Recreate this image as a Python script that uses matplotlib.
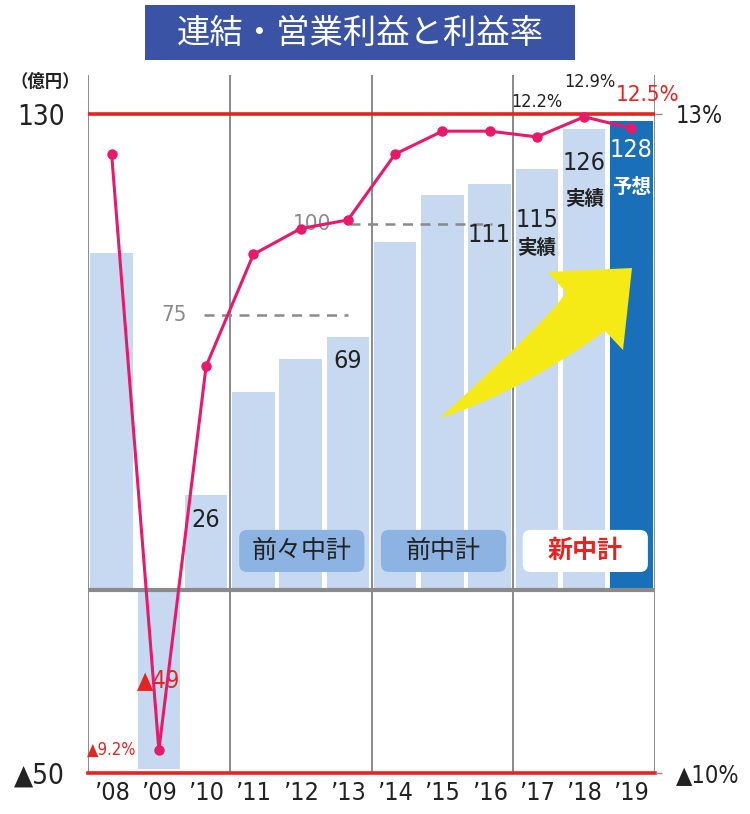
import matplotlib
matplotlib.use('Agg')
import matplotlib.pyplot as plt
import matplotlib.patches as mpatches
from matplotlib.path import Path

# --- data ---
years = ['’08', '’09', '’10', '’11', '’12', '’13', '’14', '’15', '’16', '’17', '’18', '’19']
profit = [92, -49, 26, 54, 63, 69, 95, 108, 111, 115, 126, 128]      # 億円
margin = [11.6, -9.2, 4.2, 8.1, 9.0, 9.3, 11.6, 12.4, 12.4, 12.2, 12.9, 12.5]  # %
plans = ['前々中計', '前中計', '新中計']
targets = [75, 100]

NUM = dict(family=['DejaVu Sans'], fontstretch='condensed')
JP = ['Noto Sans CJK JP', 'DejaVu Sans']

BAR = '#C6D9F0'
BAR_FC = '#1A6FB9'
LINE = '#E8196B'
RED = '#E52421'
GRAY = '#8a8a8a'
DARK = '#222222'

fig = plt.figure(figsize=(7.5, 8.14), dpi=100)
ax = fig.add_axes([88/750, 41/814, 567/750, 698/814])
ax2 = ax.twinx()

x = list(range(len(years)))
colors = [BAR] * (len(years) - 1) + [BAR_FC]
ax.bar(x, profit, width=0.9, color=colors, zorder=1)

ax.set_xlim(-0.5, 11.5)
ax.set_ylim(-50, 140.65)
ax2.set_ylim(-10, 14.36)

for s in ax.spines.values():
    s.set_visible(False)
for s in ax2.spines.values():
    s.set_visible(False)

# grid / frame lines
for b in [-0.5, 2.5, 5.5, 8.5, 11.5]:
    ax.axvline(b, color=GRAY, lw=1.4, zorder=2)
ax.axhline(0, color=GRAY, lw=3, zorder=2)
ax.axhline(130, color=RED, lw=2.6, zorder=2)
ax.axhline(-50, color=RED, lw=2.6, zorder=2, clip_on=False)

# target dashed lines
ax.plot([1.95, 5.0], [targets[0]] * 2, ls=(0, (4, 3)), color=GRAY, lw=1.8, zorder=2)
ax.plot([5.05, 8.05], [targets[1]] * 2, ls=(0, (4, 3)), color=GRAY, lw=1.8, zorder=2)
ax.text(1.6, targets[0], str(targets[0]), ha='right', va='center', color=GRAY,
        fontsize=16, **NUM)
ax.text(4.65, targets[1], str(targets[1]), ha='right', va='center', color=GRAY,
        fontsize=16, zorder=3, **NUM)

# ticks
ax.set_xticks(x)
ax.set_xticklabels(years, fontsize=18, color=DARK, **NUM)
ax.tick_params(axis='x', length=0, pad=6)
ax.set_yticks([130, -50])
ax.set_yticklabels(['130', '▲50'], fontsize=20, color=DARK, **NUM)
ax.tick_params(axis='y', length=0, pad=17)
ax2.set_yticks([13, -10])
ax2.set_yticklabels(['13%', '▲10%'], fontsize=17, color=DARK, **NUM)
ax2.tick_params(axis='y', length=5, color=GRAY, width=1, pad=10)

fig.text(45/750, 1 - 82/814, '（億円）', ha='center', va='center', fontsize=12.5,
         fontweight='bold', family=JP, color=DARK)

# margin line
ax2.plot(x, margin, color=LINE, lw=2.2, marker='o', markersize=6.5, zorder=5,
         clip_on=False)

# bar value labels
def bar_label(i, txt, dy, color=DARK, size=18, jp=False):
    font = dict(family=JP, fontweight='bold') if jp else NUM
    ax.annotate(txt, (x[i], profit[i]), xytext=(0, dy), textcoords='offset points',
                ha='center', va='center', fontsize=size, color=color, zorder=4, **font)

bar_label(2, str(profit[2]), -18)
bar_label(5, str(profit[5]), -17)
bar_label(8, str(profit[8]), -37)
bar_label(9, str(profit[9]), -37)
bar_label(9, '実績', -57, size=14, jp=True)
bar_label(10, str(profit[10]), -25)
bar_label(10, '実績', -51, size=14, jp=True)
bar_label(11, str(profit[11]), -21, color='white')
bar_label(11, '予想', -48, color='white', size=14, jp=True)
ax.text(x[1], profit[1] / 2, '▲' + str(-profit[1]), ha='center', va='center',
        fontsize=17, color=RED, zorder=4, **NUM)

# margin labels
ax2.annotate('▲%.1f%%' % -margin[1], (x[0], margin[1]), ha='center', va='center',
             fontsize=12, color=RED, zorder=6, **NUM)
ax2.annotate('%.1f%%' % margin[9], (x[9], margin[9]), xytext=(0, 25),
             textcoords='offset points', ha='center', va='center', fontsize=13,
             color=DARK, **NUM)
ax2.annotate('%.1f%%' % margin[10], (x[10], margin[10]), xytext=(4, 25),
             textcoords='offset points', ha='center', va='center', fontsize=13,
             color=DARK, **NUM)
ax2.annotate('%.1f%%' % margin[11], (x[11], margin[11]), xytext=(12, 24),
             textcoords='offset points', ha='center', va='center', fontsize=16,
             color=RED, annotation_clip=False, **NUM)

# plan badges
aspect = (567 / 12) / (698 / 190.65)
badge_fc = ['#8DB3E2', '#8DB3E2', 'white']
badge_tc = [DARK, DARK, RED]
for k, (name, fc, tc) in enumerate(zip(plans, badge_fc, badge_tc)):
    x0 = 2.5 + 3 * k + 0.2
    box = mpatches.FancyBboxPatch((x0, 4.9), 2.65, 11.5,
                                  boxstyle='round,pad=0,rounding_size=0.17',
                                  mutation_aspect=aspect, fc=fc, ec='none', zorder=3)
    ax.add_patch(box)
    ax.text(x0 + 1.325, 10.65, name, ha='center', va='center', fontsize=18,
            color=tc, family=JP, fontweight='bold' if k == 2 else 'normal', zorder=4)

# yellow arrow (decoration)
px = [(440, 418), (557, 311), (566, 292), (548, 272), (632, 268),
      (623, 350), (605, 331), (517, 394), (440, 418)]
verts = [(a / 750, 1 - b / 814) for a, b in px]
codes = [Path.MOVETO, Path.CURVE3, Path.CURVE3, Path.LINETO, Path.LINETO,
         Path.LINETO, Path.LINETO, Path.CURVE3, Path.CURVE3]
fig.patches.append(mpatches.PathPatch(Path(verts, codes), fc='#F5E916', ec='none',
                                      transform=fig.transFigure, zorder=10))

# title
fig.patches.append(mpatches.Rectangle((145/750, 1 - 60/814), 430/750, 55/814,
                                      fc='#3A53A4', ec='none', transform=fig.transFigure))
fig.text(360/750, 1 - 33/814, '連結・営業利益と利益率', ha='center', va='center',
         fontsize=24, color='white', family=JP)

fig.savefig('out.png', dpi=100)
